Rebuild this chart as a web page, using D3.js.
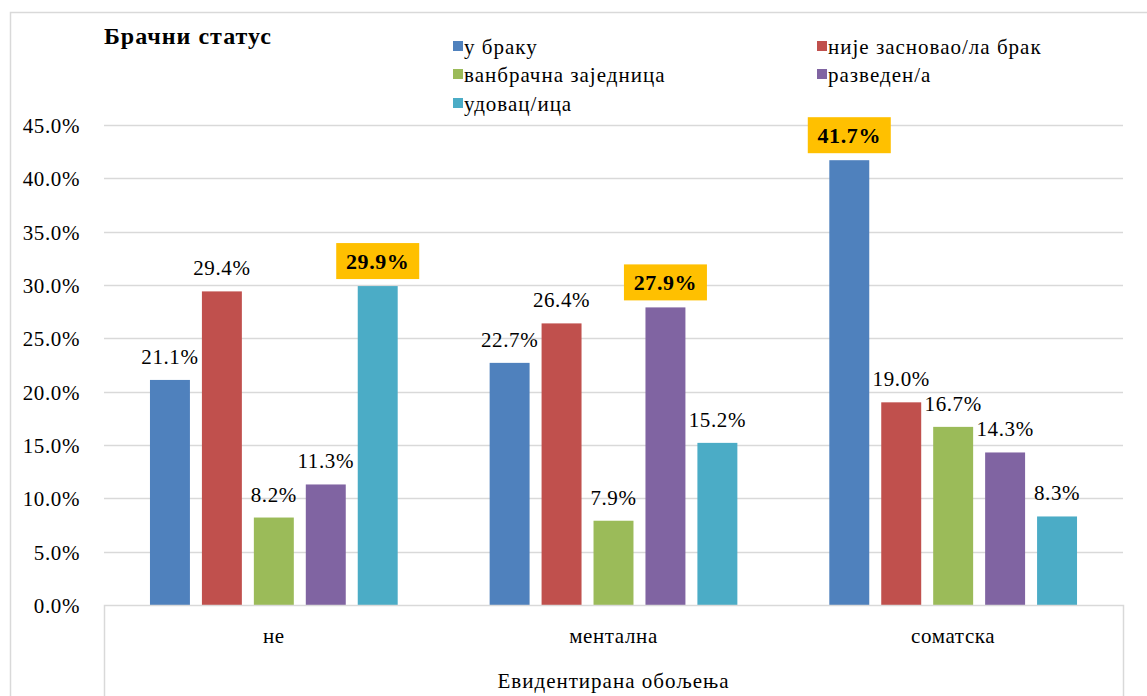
<!DOCTYPE html>
<html>
<head>
<meta charset="utf-8">
<script src="https://cdn.jsdelivr.net/npm/d3@7"></script>
<style>
  html, body { margin: 0; padding: 0; background: #fff; }
  svg { display: block; }
  svg text { font-family: "Liberation Serif", "Times New Roman", Times, "DejaVu Serif", serif !important; fill: #000; }
</style>
</head>
<body>
<svg id="chart" width="1147" height="696"></svg>
<script>
// ---- data ----
const chartTitle = "Брачни статус";
const xAxisTitle = "Евидентирана обољења";
const categories = ["не", "ментална", "соматска"];
const seriesNames = ["у браку", "није засновао/ла брак", "ванбрачна заједница", "разведен/а", "удовац/ица"];
const seriesColors = ["#4F81BD", "#C0504D", "#9BBB59", "#8064A2", "#4BACC6"];
const uBraku = [21.1, 22.7, 41.7];
const nijeZasnovao = [29.4, 26.4, 19.0];
const vanbracna = [8.2, 7.9, 16.7];
const razveden = [11.3, 27.9, 14.3];
const udovac = [29.9, 15.2, 8.3];
const yTicks = [0, 5, 10, 15, 20, 25, 30, 35, 40, 45];

const seriesValues = [uBraku, nijeZasnovao, vanbracna, razveden, udovac];
const rows = [];
categories.forEach((c, ci) => {
  const maxV = d3.max(seriesValues, s => s[ci]);
  seriesValues.forEach((s, si) => {
    rows.push({ cat: c, series: seriesNames[si], color: seriesColors[si], value: s[ci], highlight: s[ci] === maxV });
  });
});

// ---- layout ----
const svg = d3.select("#chart");
const plotLeft = 104, plotRight = 1123, plotTop = 125, plotBottom = 605;
const grid = "#D9D9D9";
const FS = 21, LS = "0.6px";

const x0 = d3.scaleBand().domain(categories).range([plotLeft, plotRight]).paddingInner(0).paddingOuter(0);
const x1 = d3.scaleBand().domain(seriesNames).range([0, x0.bandwidth()]).paddingInner(12 / 52).paddingOuter(0.885);
const y = d3.scaleLinear().domain([0, 45]).range([plotBottom, plotTop]);

// outer border (left & top)
svg.append("path").attr("d", `M10.5,696 V12.5 H1147`).attr("fill", "none").attr("stroke", grid).attr("stroke-width", 1.5);

// gridlines
svg.append("g").selectAll("line").data(yTicks.filter(t => t > 0)).join("line")
  .attr("x1", plotLeft).attr("x2", plotRight)
  .attr("y1", d => Math.round(y(d)) + 0.5).attr("y2", d => Math.round(y(d)) + 0.5)
  .attr("stroke", grid).attr("stroke-width", 1.5);

// y axis labels
const yAxis = d3.axisLeft(y).tickValues(yTicks).tickFormat(d => d.toFixed(1) + "%").tickSize(0).tickPadding(0);
const yg = svg.append("g").attr("transform", `translate(80,0)`).call(yAxis);
yg.select(".domain").remove();
yg.selectAll("text").attr("font-size", FS).attr("letter-spacing", LS).attr("dy", "0.35em");

// bars
svg.append("g").selectAll("rect").data(rows).join("rect")
  .attr("x", d => x0(d.cat) + x1(d.series))
  .attr("y", d => y(d.value))
  .attr("width", x1.bandwidth())
  .attr("height", d => y(0) - y(d.value))
  .attr("fill", d => d.color);

// category axis box
svg.append("path")
  .attr("d", `M${plotLeft + 0.5},696 V${plotBottom + 0.5} H${plotRight + 0.5} V696`)
  .attr("fill", "none").attr("stroke", grid).attr("stroke-width", 1.5);

const xAxis = d3.axisBottom(x0).tickSize(0).tickPadding(0);
const xg = svg.append("g").attr("transform", `translate(0,643)`).call(xAxis);
xg.select(".domain").remove();
xg.selectAll("text").attr("font-size", FS).attr("letter-spacing", LS).attr("dy", 0);

svg.append("text").attr("x", (plotLeft + plotRight) / 2).attr("y", 688)
  .attr("text-anchor", "middle").attr("font-size", FS).attr("letter-spacing", "1px").text(xAxisTitle);

// data labels
const labels = svg.append("g");
rows.forEach(d => {
  const cx = x0(d.cat) + x1(d.series) + x1.bandwidth() / 2;
  const top = y(d.value);
  const txt = d.value.toFixed(1) + "%";
  if (d.highlight) {
    labels.append("rect").attr("x", cx - 41.5).attr("y", top - 43).attr("width", 83).attr("height", 36).attr("fill", "#FFC000");
    labels.append("text").attr("x", cx).attr("y", top - 17).attr("text-anchor", "middle")
      .attr("font-size", 22).attr("letter-spacing", LS).attr("font-weight", "bold").text(txt);
  } else {
    labels.append("text").attr("x", cx).attr("y", top - 16).attr("text-anchor", "middle")
      .attr("font-size", FS).attr("letter-spacing", LS).text(txt);
  }
});

// title
svg.append("text").attr("x", 104).attr("y", 44).attr("font-size", 24).attr("letter-spacing", "1px").attr("font-weight", "bold").text(chartTitle);

// legend
const legendPos = [[453, 47], [817, 47], [453, 75], [817, 75], [453, 104]];
const lg = svg.append("g");
seriesNames.forEach((n, i) => {
  const [lx, ly] = legendPos[i];
  lg.append("rect").attr("x", lx).attr("y", ly - 6).attr("width", 10).attr("height", 10).attr("fill", seriesColors[i]);
  lg.append("text").attr("x", lx + 11).attr("y", ly + 7).attr("font-size", FS).attr("letter-spacing", "1px").text(n);
});
</script>
</body>
</html>
